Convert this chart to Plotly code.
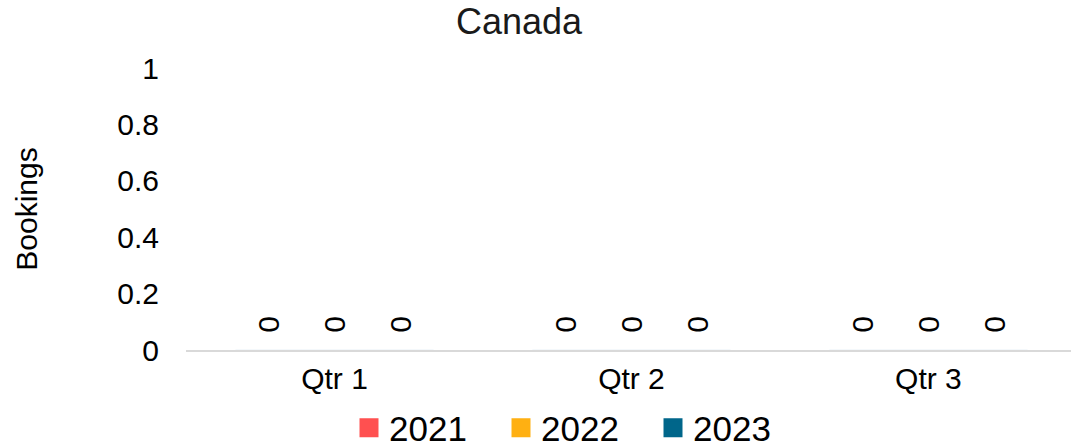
import plotly.graph_objects as go

categories = ["Qtr 1", "Qtr 2", "Qtr 3"]
series_names = ["2021", "2022", "2023"]
values_2021 = [0, 0, 0]
values_2022 = [0, 0, 0]
values_2023 = [0, 0, 0]
y_ticks = [0, 0.2, 0.4, 0.6, 0.8, 1]
y_tick_labels = ["0", "0.2", "0.4", "0.6", "0.8", "1"]

colors = ["#FF5050", "#FFB012", "#00668A"]
series_values = [values_2021, values_2022, values_2023]
FONT = "Liberation Sans, Arial, sans-serif"

fig = go.Figure()
for name, vals, col in zip(series_names, series_values, colors):
    fig.add_trace(go.Bar(
        x=categories, y=vals, name=name, marker_color=col,
        texttemplate="\u00a0\u2009%{y}", textposition="outside", textangle=-90,
        textfont=dict(size=30, color="#000000", family=FONT),
        cliponaxis=False, showlegend=False,
    ))
    fig.add_trace(go.Scatter(
        x=[None], y=[None], mode="markers", name=name,
        marker=dict(symbol="square", size=16, color=col, line=dict(width=3, color=col)),
        showlegend=True,
    ))

fig.update_layout(
    width=1071, height=447,
    margin=dict(l=186, r=0, t=68, b=97),
    paper_bgcolor="white", plot_bgcolor="white",
    font=dict(family=FONT, color="#000000"),
    barmode="group", bargap=0.333, bargroupgap=0,
    title=dict(text="Canada", x=519 / 1071, xanchor="center", xref="container",
               y=1 - 21 / 447, yanchor="middle", yref="container",
               font=dict(size=36, color="#1a1a1a", family=FONT)),
    xaxis=dict(type="category", range=[-0.5, 2.48], showgrid=False,
               showline=True, linecolor="#D9D9D9", linewidth=1.5,
               ticks="", tickfont=dict(size=30), ticklabelstandoff=1,
               zeroline=False),
    yaxis=dict(range=[0, 1], tickvals=y_ticks, ticktext=y_tick_labels,
               showgrid=False, showline=False, zeroline=False, ticks="",
               tickfont=dict(size=30), ticklabelstandoff=26,
               title=dict(text="Bookings", font=dict(size=30), standoff=70)),
    legend=dict(orientation="h", x=577 / 1071, xanchor="center", xref="container",
                y=1 - 428 / 447, yanchor="middle", yref="container",
                font=dict(size=35), bgcolor="rgba(0,0,0,0)",
                entrywidth=107, entrywidthmode="pixels"),
)

fig.write_html(
    "out.html",
    config={"displayModeBar": False},
    post_script="document.body.style.margin='0';document.body.style.overflow='hidden';",
)
